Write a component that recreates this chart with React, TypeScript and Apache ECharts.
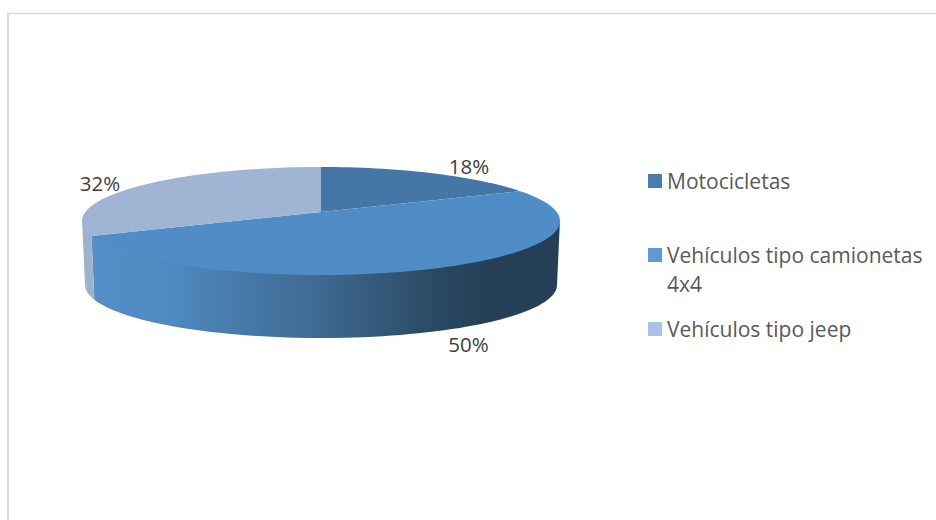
import React, { useEffect, useRef } from "react";
import * as echarts from "echarts";

const categories = ["Motocicletas", "Vehículos tipo camionetas 4x4", "Vehículos tipo jeep"];
const legendNames = ["Motocicletas", "Vehículos tipo camionetas\n4x4", "Vehículos tipo jeep"];
const shares = [18, 50, 32];
const topColors = ["#4477a6", "#508dc6", "#a0b5d3"];
const legendColors = ["#4a7cac", "#5b9bd5", "#a9c3e5"];
const labelAnchors = [[469, 166], [468.5, 344], [100, 183]];
const legendTops = [166.5, 240.5, 314.5];

const CX = 321, CY = 221, RX = 239, RY = 54, DEPTH = 64, BOTTOM_RX = 236, BOTTOM_RY = 53;
const PERSP = 1 / 6;
const SIDE_LIMIT = Math.acos(-PERSP);

// Projection of a tilted circle, with foreshortening towards the back.
function project(theta: number, bottom: boolean): number[] {
  const sx = Math.sin(theta), cz = Math.cos(theta);
  const w = 1 + PERSP * cz;
  const x = (Math.sqrt(1 - PERSP * PERSP) * sx) / w;
  const y = (cz + PERSP) / w;
  return bottom
    ? [CX + x * BOTTOM_RX, CY + DEPTH - y * BOTTOM_RY]
    : [CX + x * RX, CY - y * RY];
}

function arcPoints(a: number, b: number, bottom: boolean): number[][] {
  const n = Math.max(2, Math.ceil((Math.abs(b - a) / Math.PI) * 90));
  const pts: number[][] = [];
  for (let i = 0; i <= n; i++) pts.push(project(a + ((b - a) * i) / n, bottom));
  return pts;
}

const total = shares.reduce((s, v) => s + v, 0);

function startOf(index: number): number {
  return (shares.slice(0, index).reduce((s, v) => s + v, 0) / total) * Math.PI * 2;
}

const wallStyle = (index: number): any =>
  index === 1
    ? {
        fill: new echarts.graphic.LinearGradient(0, 0, 1, 0, [
          { offset: 0, color: "#5290c9" },
          { offset: 0.16, color: "#4f8ac1" },
          { offset: 0.48, color: "#3f6a92" },
          { offset: 0.76, color: "#28465f" },
          { offset: 0.86, color: "#243f56" },
          { offset: 1, color: "#243f56" },
        ]),
      }
    : { fill: "#9db2d0" };

function App() {
  const ref = useRef<HTMLDivElement>(null);
  useEffect(() => {
    document.body.style.margin = "0";
    const chart = echarts.init(ref.current!, null, { renderer: "svg" });
    const wallSeries = shares.map((_, i) => ({
      type: "custom",
      name: categories[i] + " (lado)",
      coordinateSystem: "none",
      silent: true,
      z: 1,
      data: [[shares[i]]],
      renderItem: (_p: any, api: any) => {
        const a0 = Math.max(startOf(i), SIDE_LIMIT);
        const a1 = Math.min(startOf(i) + (api.value(0) / total) * Math.PI * 2, Math.PI * 2 - SIDE_LIMIT);
        if (a1 <= a0) return { type: "group", children: [] };
        // The upper edge runs slightly under the top face so that no seam shows.
        const upper = arcPoints(a0, a1, false).map((p) => [p[0], p[1] - 1.5]);
        const pts = [...upper, ...arcPoints(a1, a0, true)];
        return { type: "polygon", shape: { points: pts }, style: wallStyle(i) };
      },
    }));
    const topSeries = shares.map((_, i) => ({
      type: "custom",
      name: categories[i],
      coordinateSystem: "none",
      silent: true,
      z: 2,
      data: [[shares[i]]],
      itemStyle: { color: legendColors[i] },
      renderItem: (_p: any, api: any) => {
        const a0 = startOf(i);
        const a1 = a0 + (api.value(0) / total) * Math.PI * 2;
        const pts = [[CX, CY - PERSP * RY], ...arcPoints(a0, a1, false)];
        return {
          type: "group",
          children: [
            { type: "polygon", shape: { points: pts }, style: { fill: topColors[i] } },
            {
              type: "text",
              z2: 10,
              style: {
                x: labelAnchors[i][0],
                y: labelAnchors[i][1],
                text: `${api.value(0)}%`,
                fill: "#404040",
                font: '20.5px "Open Sans"',
                align: "center",
                verticalAlign: "middle",
              },
            },
          ],
        };
      },
    }));
    const legendBase = {
      orient: "vertical",
      left: 648,
      padding: 0,
      selectedMode: false,
      itemGap: 0,
      textStyle: { color: "#595959", fontSize: 21, fontFamily: "Open Sans", lineHeight: 29 },
    };
    chart.setOption({
      animation: false,
      backgroundColor: "#ffffff",
      graphic: [
        { type: "line", shape: { x1: 7, y1: 13.6, x2: 936, y2: 13.6 }, style: { stroke: "#d9d9d9", lineWidth: 1.5 } },
        { type: "line", shape: { x1: 8, y1: 13, x2: 8, y2: 520 }, style: { stroke: "#d9d9d9", lineWidth: 2 } },
      ],
      legend: [
        {
          ...legendBase,
          top: legendTops[0],
          itemWidth: 14,
          itemHeight: 14,
          icon: "rect",
          data: [{ name: categories[0] }],
          formatter: () => legendNames[0],
        },
        {
          ...legendBase,
          top: legendTops[1],
          itemWidth: 14,
          itemHeight: 43,
          icon: "path://M0 0h14v14h-14zM0 43h14",
          data: [{ name: categories[1] }],
          formatter: () => legendNames[1],
        },
        {
          ...legendBase,
          top: legendTops[2],
          itemWidth: 14,
          itemHeight: 14,
          icon: "rect",
          data: [{ name: categories[2] }],
          formatter: () => legendNames[2],
        },
      ],
      series: [...wallSeries, ...topSeries],
    });
    return () => chart.dispose();
  }, []);
  return <div ref={ref} style={{ width: 936, height: 520 }} />;
}

export default App;
